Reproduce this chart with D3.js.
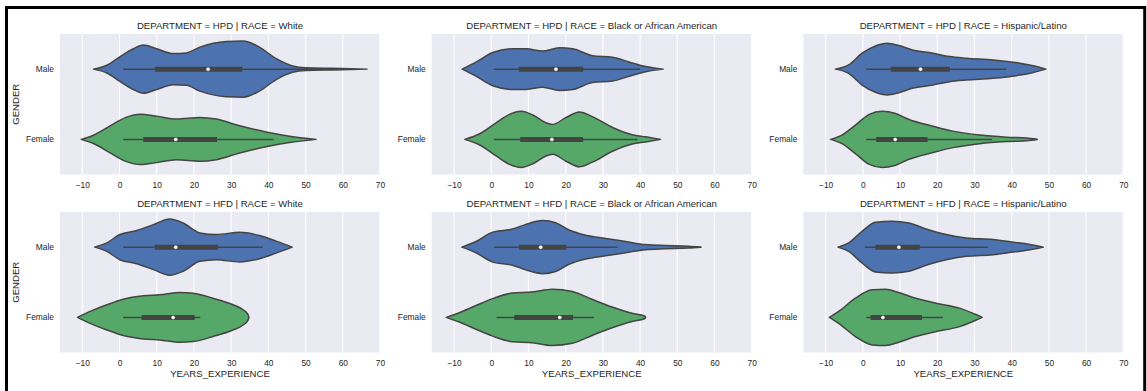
<!DOCTYPE html>
<html><head><meta charset="utf-8">
<script src="https://cdn.jsdelivr.net/npm/d3@7"></script>
<style>
html,body{margin:0;padding:0;background:#fff;}
svg{display:block;}
text{font-family:"Liberation Sans",Arial,sans-serif;}
</style></head>
<body>
<script>
// ---- data ----
const departments = ["HPD", "HFD"];
const races = ["White", "Black or African American", "Hispanic/Latino"];
const genders = ["Male", "Female"];
const xTicks = [-10, 0, 10, 20, 30, 40, 50, 60, 70];
const xDomain = [-16, 70];

// violin profiles: [years, relative density]
const hpdWhiteMale = [[-7,0],[-3.4,4],[0.1,12.7],[3.7,21],[6.4,25],[10,21],[14.4,16],[18,16.7],[21.6,22.7],[28.7,28.5],[33.2,29],[37.6,22.7],[42,11],[46.5,3.3],[50,1.3],[57,0.8],[62,0.5],[66.5,0]];
const hpdWhiteFemale = [[-10.3,0],[-7,4.3],[-2.5,14],[1.9,23],[5.5,26],[10,24],[15.3,21],[21.6,22.7],[26,21],[32.3,14],[39.4,7.7],[45.7,3.3],[52.8,0]];
const hpdBlackMale = [[-7.8,0],[-4,7.7],[0.4,17.7],[5.8,21.7],[9.4,21.7],[13.8,19.3],[18.3,22.7],[21.9,21.7],[27.2,14.3],[32.6,12.7],[37,7.7],[41.5,2.7],[46.2,0]];
const hpdBlackFemale = [[-7.1,0],[-3.1,6],[1.3,17.7],[4.9,26.7],[8,30],[11.2,26],[14.7,17.7],[16.5,16],[20.1,23.3],[23.7,29.3],[27.2,24.3],[32.6,12.7],[37.9,5],[41.5,2.7],[45.5,0]];
const hpdHispMale = [[-7.4,0],[-3.8,4.3],[-0.2,16],[3.4,23.3],[6.6,26],[9.7,23.7],[13.3,19.3],[18.8,16],[23.3,12.7],[27.8,11],[35,9.3],[42.2,6],[45.8,3.3],[49.2,0]];
const hpdHispFemale = [[-8.7,0],[-5.6,4.3],[-2,14.3],[1.6,25],[5.2,28.3],[8.8,26],[12.4,20],[18.8,13.3],[24.2,8.3],[31.4,4.3],[38.6,2.2],[44,1.3],[46.9,0]];
const hfdWhiteMale = [[-6.7,0],[-3.4,4.3],[0.1,12.7],[4.6,16.7],[9.1,22.7],[13.5,28.3],[17.1,24.3],[21.6,14.3],[26,12.7],[32.3,15],[37.6,11.7],[42.1,6],[46.4,0]];
const hfdWhiteFemale = [[-11.3,0],[-7.9,6],[-3.4,12.7],[1,18.3],[6.4,21.7],[10.8,22.7],[16.2,25],[19.8,24.3],[25.1,19.3],[30.5,12.7],[33.2,7.7],[34.5,3],[34.8,0]];
const hfdBlackMale = [[-7.9,0],[-4.1,6],[0.4,16],[5.7,19.3],[9.3,24.3],[13.8,28.3],[17.3,26],[20.9,18.3],[25.4,12.7],[30.7,9.3],[36.1,6],[41.4,2.7],[46.8,1.7],[53,1],[56.4,0]];
const hfdBlackFemale = [[-12.1,0],[-8.6,5],[-4.1,12.7],[0.4,20],[5.7,26],[11,27],[16.4,30],[21.8,27.7],[27.1,19.3],[32.5,11],[37.9,4.3],[41.2,1.5],[41.5,0]];
const hfdHispMale = [[-6.7,0],[-3.8,4.3],[-0.2,16],[3.4,25],[7.9,26],[12.4,24.3],[17,18.3],[22.4,12.7],[27.8,9.3],[35,7.7],[40.4,5],[44.9,2.7],[48.5,0]];
const hfdHispFemale = [[-9,0],[-6.5,6],[-2,19.3],[2.5,27.7],[6.1,28.3],[9.7,25],[14.2,19.3],[19.7,14.3],[26,9.3],[30.5,2.7],[32.1,0]];

// box stats: [lower whisker, q1, median, q3, upper whisker]
const hpdWhiteMaleBox = [1, 9.5, 23.8, 33, 60];
const hpdWhiteFemaleBox = [1, 6.4, 15.1, 26.2, 41.4];
const hpdBlackMaleBox = [0.7, 7.4, 17.4, 24.7, 40];
const hpdBlackFemaleBox = [0.7, 7.8, 16.3, 24.7, 39.3];
const hpdHispMaleBox = [0.9, 7.5, 15.5, 23.4, 38.6];
const hpdHispFemaleBox = [0.9, 3.6, 8.7, 17.4, 34.7];
const hfdWhiteMaleBox = [1, 9.5, 15.1, 26.5, 38.5];
const hfdWhiteFemaleBox = [1, 5.9, 14.4, 20.2, 21.7];
const hfdBlackMaleBox = [0.8, 7.5, 13.3, 20.2, 34];
const hfdBlackFemaleBox = [1.4, 6.2, 18.4, 22, 27.6];
const hfdHispMaleBox = [0.5, 3.4, 9.7, 15.3, 33.6];
const hfdHispFemaleBox = [0.9, 2.1, 5.4, 15.9, 21.5];

const panels = [
  {dept:"HPD", race:"White", v:[hpdWhiteMale, hpdWhiteFemale], b:[hpdWhiteMaleBox, hpdWhiteFemaleBox]},
  {dept:"HPD", race:"Black or African American", v:[hpdBlackMale, hpdBlackFemale], b:[hpdBlackMaleBox, hpdBlackFemaleBox]},
  {dept:"HPD", race:"Hispanic/Latino", v:[hpdHispMale, hpdHispFemale], b:[hpdHispMaleBox, hpdHispFemaleBox]},
  {dept:"HFD", race:"White", v:[hfdWhiteMale, hfdWhiteFemale], b:[hfdWhiteMaleBox, hfdWhiteFemaleBox]},
  {dept:"HFD", race:"Black or African American", v:[hfdBlackMale, hfdBlackFemale], b:[hfdBlackMaleBox, hfdBlackFemaleBox]},
  {dept:"HFD", race:"Hispanic/Latino", v:[hfdHispMale, hfdHispFemale], b:[hfdHispMaleBox, hfdHispFemaleBox]}
];

// ---- layout ----
const W = 1147, H = 391;
const colLeft = [60, 431.7, 803.3];
const rowTop = [34, 212];
const pw = 320, ph = 140.5;
const colors = ["#4C72B0", "#55A868"];
const gray = "#444444";
const txt = "#262626";

const svg = d3.select("body").append("svg").attr("width", W).attr("height", H);
svg.append("rect").attr("width", W).attr("height", H).attr("fill", "#fff");

const x = d3.scaleLinear().domain(xDomain).range([0, pw]);
const y = d3.scaleBand().domain(genders).range([0, ph]).padding(0);

panels.forEach((p, i) => {
  const r = departments.indexOf(p.dept);
  const c = races.indexOf(p.race);
  const g = svg.append("g").attr("transform", `translate(${colLeft[c]},${rowTop[r]})`);
  g.append("rect").attr("width", pw).attr("height", ph).attr("fill", "#EAEAF2");
  // grid
  g.selectAll(".grid").data(xTicks).join("line")
    .attr("x1", d => x(d)).attr("x2", d => x(d)).attr("y1", 0).attr("y2", ph)
    .attr("stroke", "#fff").attr("stroke-width", 1.1);
  // x axis
  const xa = g.append("g").attr("transform", `translate(0,${ph})`)
    .call(d3.axisBottom(x).tickValues(xTicks).tickSize(0).tickPadding(8)
      .tickFormat(d => d < 0 ? "\u2212" + Math.abs(d) : String(d)));
  xa.select(".domain").remove();
  xa.selectAll("text").attr("font-size", "8.4px").attr("fill", txt)
    .attr("font-family", "'Liberation Sans',Arial,sans-serif");
  // y axis
  const ya = g.append("g").call(d3.axisLeft(y).tickSize(0).tickPadding(6));
  ya.select(".domain").remove();
  ya.selectAll("text").attr("font-size", "8.4px").attr("fill", txt)
    .attr("font-family", "'Liberation Sans',Arial,sans-serif");
  // title
  g.append("text").attr("x", pw / 2).attr("y", -5.5).attr("text-anchor", "middle")
    .attr("font-size", "9.6px").attr("fill", txt)
    .text(`DEPARTMENT = ${p.dept} | RACE = ${p.race}`);
  // violins
  const maxD = d3.max(p.v.flat(), d => d[1]);
  const hw = d3.scaleLinear().domain([0, maxD]).range([0, y.bandwidth() * 0.4]);
  genders.forEach((gen, k) => {
    const cy = y(gen) + y.bandwidth() / 2;
    const area = d3.area().curve(d3.curveMonotoneX)
      .x(d => x(d[0])).y0(d => cy - hw(d[1])).y1(d => cy + hw(d[1]));
    g.append("path").datum(p.v[k]).attr("d", area)
      .attr("fill", colors[k]).attr("stroke", gray).attr("stroke-width", 1.5)
      .attr("stroke-linejoin", "round");
    const b = p.b[k];
    g.append("line").attr("x1", x(b[0])).attr("x2", x(b[4])).attr("y1", cy).attr("y2", cy)
      .attr("stroke", gray).attr("stroke-width", 1.5);
    g.append("line").attr("x1", x(b[1])).attr("x2", x(b[3])).attr("y1", cy).attr("y2", cy)
      .attr("stroke", gray).attr("stroke-width", 5);
    g.append("circle").attr("cx", x(b[2])).attr("cy", cy).attr("r", 2)
      .attr("fill", "#fff").attr("stroke", gray).attr("stroke-width", 0.4);
  });
  // axis labels
  if (c === 0) {
    g.append("text").attr("transform", `translate(${-41.5},${ph / 2}) rotate(-90)`)
      .attr("text-anchor", "middle").attr("font-size", "9.6px").attr("fill", txt).text("GENDER");
  }
  if (r === 1) {
    g.append("text").attr("x", pw / 2).attr("y", ph + 24.5).attr("text-anchor", "middle")
      .attr("font-size", "9.6px").attr("fill", txt).text("YEARS_EXPERIENCE");
  }
});

// frame
svg.append("rect").attr("x", 6.5).attr("y", 7.5).attr("width", 1138.2).attr("height", 420)
  .attr("fill", "none").attr("stroke", "#000").attr("stroke-width", 3);
</script>
</body></html>
